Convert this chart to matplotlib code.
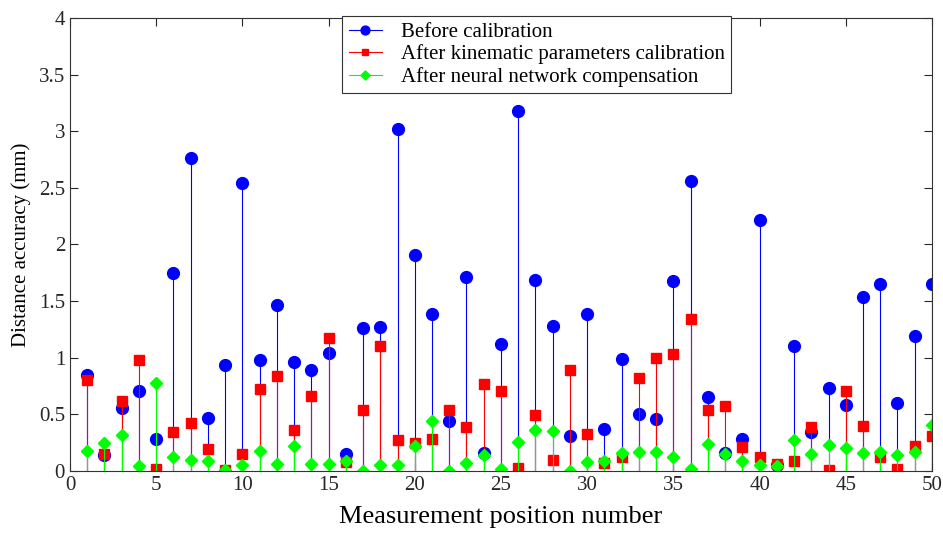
import numpy as np
import matplotlib
matplotlib.use('Agg')
import matplotlib.pyplot as plt
from matplotlib.lines import Line2D
from matplotlib.legend_handler import HandlerLine2D

# measurement positions 1..50
positions = list(range(1, 51))

# distance accuracy before calibration (mm)
before_cal = [0.85, 0.14, 0.56, 0.71, 0.28, 1.75, 2.76, 0.47, 0.94, 2.54,
              0.98, 1.47, 0.96, 0.89, 1.04, 0.15, 1.26, 1.27, 3.02, 1.91,
              1.39, 0.44, 1.71, 0.16, 1.12, 3.18, 1.69, 1.28, 0.31, 1.39,
              0.37, 0.99, 0.50, 0.46, 1.68, 2.56, 0.65, 0.16, 0.28, 2.22,
              0.05, 1.10, 0.34, 0.73, 0.58, 1.54, 1.65, 0.60, 1.19, 1.65]

# after kinematic parameters calibration
after_kin = [0.80, 0.15, 0.62, 0.98, 0.02, 0.34, 0.42, 0.19, 0.01, 0.15,
             0.72, 0.84, 0.36, 0.66, 1.17, 0.08, 0.54, 1.10, 0.27, 0.25,
             0.28, 0.54, 0.39, 0.77, 0.71, 0.03, 0.49, 0.10, 0.89, 0.33,
             0.07, 0.12, 0.82, 1.00, 1.03, 1.34, 0.54, 0.57, 0.21, 0.12,
             0.06, 0.09, 0.39, 0.01, 0.71, 0.40, 0.12, 0.02, 0.22, 0.31]

# after neural network compensation
after_nn = [0.18, 0.25, 0.32, 0.04, 0.78, 0.12, 0.10, 0.09, 0.01, 0.05,
            0.18, 0.06, 0.22, 0.06, 0.06, 0.09, 0.00, 0.05, 0.05, 0.22,
            0.44, 0.00, 0.07, 0.14, 0.02, 0.26, 0.36, 0.35, 0.00, 0.08,
            0.09, 0.16, 0.17, 0.17, 0.12, 0.02, 0.24, 0.15, 0.09, 0.05,
            0.04, 0.27, 0.15, 0.23, 0.20, 0.16, 0.17, 0.14, 0.17, 0.41]

series_labels = ['Before calibration',
                 'After kinematic parameters calibration',
                 'After neural network compensation']

plt.rcParams['font.family'] = ['Liberation Serif', 'DejaVu Serif']

fig = plt.figure(figsize=(9.43, 5.36), dpi=100)
ax = fig.add_axes([0.0742, 0.1213, 0.9141, 0.8451])

styles = [('#0000ff', 'o', 8.5), ('#ff0000', 's', 6.5), ('#00ff00', 'D', 6.5)]
handles = []
for data, (col, mk, ms) in zip([before_cal, after_kin, after_nn], styles):
    ml, sl, bl = ax.stem(positions, data, basefmt=' ')
    plt.setp(sl, color=col, linewidth=0.8)
    plt.setp(ml, color=col, marker=mk, markersize=ms,
             markerfacecolor=col, markeredgecolor=col)
    if mk == 'D':
        # taller diamond like matlab's
        ml.set_marker((4, 0, 0))
        ml.set_markersize(ms * 1.35)
    # smaller markers in the legend sample
    handles.append(Line2D([], [], color=col, linewidth=0.8,
                          marker=ml.get_marker(),
                          markersize=ml.get_markersize() * 0.75,
                          markerfacecolor=col, markeredgecolor=col))


# legend sample with marker at the right end of the line, like matlab
class HandlerEndMarker(HandlerLine2D):
    def get_xdata(self, legend, xdescent, ydescent, width, height, fontsize):
        xdata = np.array([-xdescent, width - xdescent])
        return xdata, np.array([width - xdescent])


leg = ax.legend(handles, series_labels, loc='upper left',
                bbox_to_anchor=(0.316, 1.004), borderaxespad=0,
                fontsize=15, handlelength=1.6, handletextpad=0.9,
                labelspacing=0.12, borderpad=0.3, fancybox=False,
                edgecolor='#333333', framealpha=1,
                handler_map={Line2D: HandlerEndMarker(numpoints=1)})
leg.get_frame().set_linewidth(0.8)

ax.set_xlim(0, 50)
ax.set_ylim(0, 4)
ax.set_xticks(np.arange(0, 51, 5))
ax.set_yticks(np.arange(0, 4.01, 0.5))
ax.set_yticklabels(['0', '0.5', '1', '1.5', '2', '2.5', '3', '3.5', '4'])
ax.tick_params(direction='in', top=True, right=True, length=6,
               width=0.8, labelsize=15, colors='#262626')
for sp in ax.spines.values():
    sp.set_color('#333333')
    sp.set_linewidth(0.8)

ax.set_xlabel('Measurement position number', fontsize=19, labelpad=8)
ax.set_ylabel('Distance accuracy (mm)', fontsize=15, labelpad=6)

fig.savefig('out.png', dpi=100)
